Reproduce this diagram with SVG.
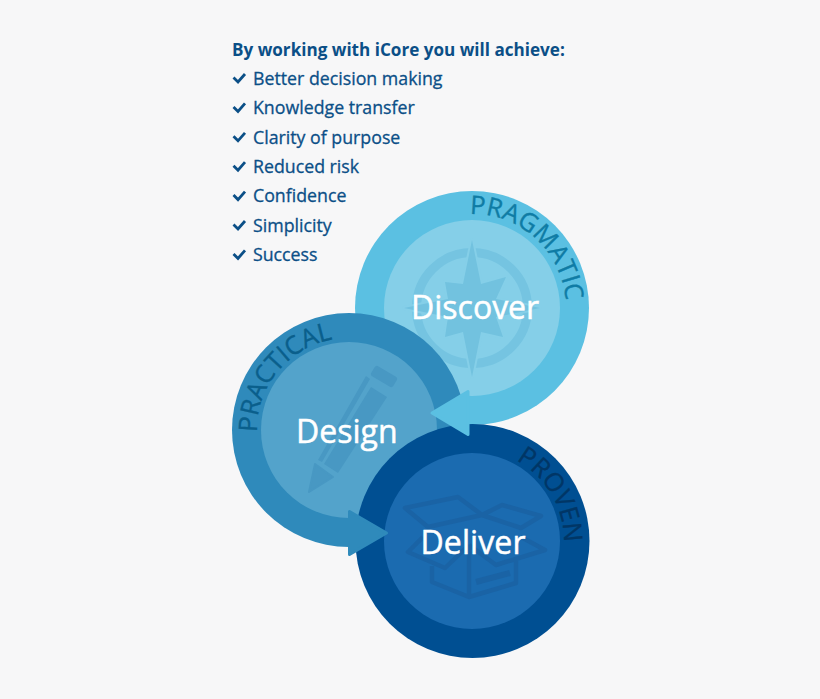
<svg xmlns="http://www.w3.org/2000/svg" width="820" height="699" viewBox="0 0 820 699">
<style>
text{font-family:"Open Sans","Noto Sans","Liberation Sans",sans-serif}
.h{font-size:17.1px;font-weight:700;fill:#0b4f87}
.li{font-size:17.75px;fill:#0b4f87;stroke:#0b4f87;stroke-width:.3}
.chk{fill:none;stroke:#0b4f87;stroke-width:2.8}
.t{font-size:32px;fill:#fff;stroke:#fff;stroke-width:.5}
.arc{font-size:25.500px;stroke-width:.35}
.arr{stroke-width:3;stroke-linejoin:round}
.boxl{fill:none;stroke:#1a63a5;stroke-width:4.500;stroke-linejoin:round}
</style>
<defs>
<path id="pa" d="M470 214A94 94 0 0 1 566 308"/>
<path id="pb" d="M257 432A92 92 0 0 1 349 338"/>
<path id="pc" d="M472 449A92 92 0 0 1 564 541"/>
</defs>
<rect width="820" height="699" fill="#f7f7f8"/>
<g id="checklist">
<text class="h" x="232" y="56">By working with iCore you will achieve:</text>
<path class="chk" d="M233.500 77.500l4.500 4.500 7-8"/><text class="li" x="253" y="84.500">Better decision making</text>
<path class="chk" d="M233.500 106.900l4.500 4.500 7-8"/><text class="li" x="253" y="114">Knowledge transfer</text>
<path class="chk" d="M233.500 136.300l4.500 4.500 7-8"/><text class="li" x="253" y="144">Clarity of purpose</text>
<path class="chk" d="M233.500 165.700l4.500 4.500 7-8"/><text class="li" x="253" y="173">Reduced risk</text>
<path class="chk" d="M233.500 195.100l4.500 4.500 7-8"/><text class="li" x="253" y="202.400">Confidence</text>
<path class="chk" d="M233.500 224.500l4.500 4.500 7-8"/><text class="li" x="253" y="232">Simplicity</text>
<path class="chk" d="M233.500 253.900l4.500 4.500 7-8"/><text class="li" x="253" y="261.400">Success</text>
</g>
<g id="discover">
<circle cx="472" cy="308" r="117" fill="#5bc0e2"/>
<circle cx="472" cy="308" r="88" fill="#85cfe8"/>
<circle cx="472" cy="308" r="55.500" fill="none" stroke="#75c4e1" stroke-width="9"/>
<path transform="translate(472 308)" fill="#72c2df" stroke="#85cfe8" stroke-width="4" paint-order="stroke" stroke-linejoin="round" d="M0-68L9-24 34-31 24-9 68 0 24 9 31 29 9 24 0 69-9 24-27 29-24 9-68 0-24-9-27-26-9-24Z"/>
<text class="arc" fill="#0f7ca5" stroke="#0f7ca5"><textPath href="#pa">PRAGMATIC</textPath></text>
</g>
<g id="design">
<circle cx="349" cy="430" r="117" fill="#2f8abb"/>
<circle cx="349" cy="430" r="88" fill="#53a3cb"/>
<path fill="#4898c3" stroke="#4898c3" stroke-linejoin="round" stroke-width="2" d="M309 492L315 464 333 477Z"/>
<path fill="#4898c3" d="M318 460L366 376 370 379 322 462Z"/>
<path fill="#4898c3" d="M324 464L371 387 387 397 338 473Z"/>
<path fill="#4898c3" stroke="#4898c3" stroke-linejoin="round" stroke-width="6" d="M377 369L394 379 391 384 374 374Z"/>
<text class="arc" fill="#0a5f8c" stroke="#0a5f8c"><textPath href="#pb">PRACTICAL</textPath></text>
</g>
<g id="deliver">
<circle cx="472.500" cy="541" r="117" fill="#004f92"/>
<circle cx="472" cy="541" r="88" fill="#1b6bb0"/>
<path class="boxl" d="M405 508L458 497 482 515 428 527ZM482 515L502 505 541 516 521 528ZM428 527L482 515 521 528M423 537L408 552 445 568 469 545M521 537L545 550 496 565 469 545M432 566V582L469 597 516 583V561M469 545V597"/>
<path d="M476 582L510 573" fill="none" stroke="#1a63a5" stroke-width="6"/>
<text class="arc" fill="#003666" stroke="#003666"><textPath href="#pc" startOffset="46">PROVEN</textPath></text>
</g>
<g id="connectors">
<path class="arr" fill="#5bc0e2" stroke="#5bc0e2" d="M432 413L468 391.500V434.500Z"/>
<path class="arr" fill="#2f8abb" stroke="#2f8abb" d="M386.500 533L349.500 511.500V554.500Z"/>
</g>
<g id="labels">
<text class="t" x="411" y="318.500">Discover</text>
<text class="t" x="296" y="443">Design</text>
<text class="t" x="420.500" y="553.500" textLength="105">Deliver</text>
</g>
</svg>
